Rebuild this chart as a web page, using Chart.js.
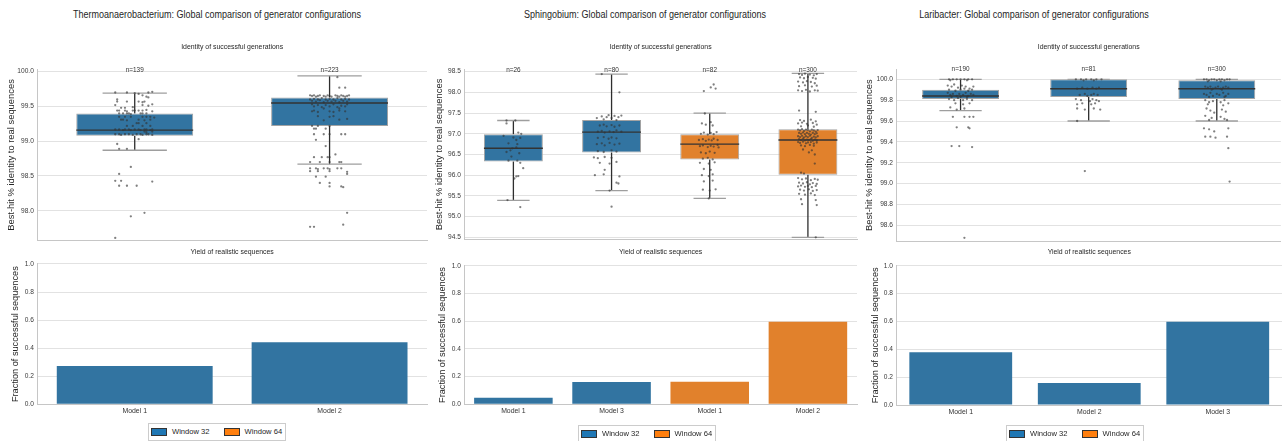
<!DOCTYPE html>
<html>
<head>
<meta charset="utf-8">
<script src="https://cdn.jsdelivr.net/npm/chart.js@4.4.1/dist/chart.umd.min.js"></script>
<style>
html,body{margin:0;padding:0;background:#ffffff;}
body{width:1282px;height:441px;overflow:hidden;position:relative;font-family:'Liberation Sans',Arial,sans-serif;color:#262626;}
canvas{position:absolute;}
.supt{position:absolute;top:9px;font-size:10px;line-height:12px;white-space:nowrap;transform:translateX(-50%) scaleX(0.9);color:#262626;}
.legend{position:absolute;height:18px;box-sizing:border-box;border:1px solid #cccccc;background:#fff;display:flex;align-items:center;padding:0 3px 0 2px;font-size:7.6px;line-height:10px;white-space:nowrap;color:#262626;}
.legend .sw{display:inline-block;width:16px;height:8px;box-sizing:border-box;border:1px solid #333;margin-right:5px;}
.legend .lt{margin-right:14px;color:#262626;}
.legend .lt:last-child{margin-right:0;}
</style>
</head>
<body>
<div class="supt" id="t1" style="left:217px"></div>
<div class="supt" id="t2" style="left:645px"></div>
<div class="supt" id="t3" style="left:1034px"></div>

<canvas id="thermoBox" width="430" height="220" style="left:0px;top:30px"></canvas>
<canvas id="thermoBar" width="430" height="201" style="left:0px;top:240px"></canvas>
<canvas id="sphingoBox" width="430" height="220" style="left:430px;top:30px"></canvas>
<canvas id="sphingoBar" width="430" height="201" style="left:430px;top:240px"></canvas>
<canvas id="lariBox" width="422" height="220" style="left:860px;top:30px"></canvas>
<canvas id="lariBar" width="422" height="201" style="left:860px;top:240px"></canvas>

<div class="legend" id="lg1" style="left:148px;top:423px;"></div>
<div class="legend" id="lg2" style="left:578px;top:425px;"></div>
<div class="legend" id="lg3" style="left:1006px;top:425px;"></div>

<script>
const FONT = "'Liberation Sans',Arial,sans-serif";
const WINDOW_COLORS = {32: '#3274a1', 64: '#e1812c'};
const LEGEND_LABELS = ['Window 32', 'Window 64'];
const LEGEND_COLORS = ['#1f77b4', '#ff7f0e'];

const suptitles = [
  'Thermoanaerobacterium: Global comparison of generator configurations',
  'Sphingobium: Global comparison of generator configurations',
  'Laribacter: Global comparison of generator configurations'
];
const identityTitle = 'Identity of successful generations';
const yieldTitle = 'Yield of realistic sequences';
const identityAxisTitle = 'Best-hit % identity to real sequences';
const yieldAxisTitle = 'Fraction of successful sequences';
const fractionTicks = [0.0, 0.2, 0.4, 0.6, 0.8, 1.0];

/* ---------- Thermoanaerobacterium ---------- */
const thermoLabels = ['Model 1', 'Model 2'];
const thermoWindows = [32, 32];
const thermoWhiskerLow = [98.87, 98.67];
const thermoQ1 = [99.08, 99.22];
const thermoMedian = [99.16, 99.55];
const thermoQ3 = [99.40, 99.63];
const thermoWhiskerHigh = [99.69, 99.94];
const thermoCounts = [139, 223];
const thermoIdentityTicks = [98.0, 98.5, 99.0, 99.5, 100.0];
const thermoPointsModel1 = [
[-0.10,99.70],[-0.04,99.70],[0.00,99.69],[0.02,99.68],[0.04,99.66],[0.07,99.70],[0.09,99.71],
[0.06,99.64],[0.07,99.63],[-0.09,99.60],
[-0.09,99.57],[-0.04,99.57],[0.02,99.57],[0.04,99.56],[0.05,99.57],
[-0.10,99.52],[0.04,99.52],[0.07,99.51],[0.09,99.53],
[-0.07,99.48],[-0.05,99.48],[-0.01,99.49],
[-0.09,99.44],[-0.08,99.44],[-0.05,99.44],[-0.04,99.43],[-0.01,99.44],[0.00,99.44],[0.02,99.44],[0.04,99.44],[0.06,99.45],[0.09,99.43],
[-0.08,99.40],[-0.06,99.40],[-0.04,99.40],[-0.03,99.40],[-0.02,99.39],[0.03,99.40],[0.04,99.40],[0.06,99.40],
[-0.08,99.35],[-0.05,99.35],[-0.02,99.35],[0.04,99.35],[0.06,99.35],[0.08,99.35],[0.10,99.34],
[-0.07,99.31],[-0.06,99.31],[-0.04,99.30],[0.02,99.31],[0.05,99.30],[0.08,99.31],
[0.01,99.26],[0.02,99.26],[0.06,99.26],
[-0.04,99.22],[-0.01,99.22],[0.04,99.22],[0.08,99.22],
[-0.10,99.17],[-0.08,99.17],[-0.06,99.16],[-0.05,99.17],[-0.03,99.17],[-0.02,99.16],[0.00,99.17],[0.02,99.17],[0.03,99.16],[0.05,99.17],[0.06,99.17],[0.08,99.16],[0.09,99.17],
[0.05,99.14],[0.06,99.13],[0.09,99.14],
[-0.10,99.10],[-0.08,99.10],[-0.07,99.09],[-0.05,99.10],[-0.03,99.10],[-0.01,99.09],[0.01,99.10],[0.03,99.10],[0.04,99.09],[0.06,99.10],[0.07,99.10],[0.09,99.09],
[0.02,99.03],[-0.09,98.96],[-0.08,98.89],[-0.04,98.89],[-0.02,98.63],[-0.08,98.53],[-0.10,98.43],[-0.07,98.43],[0.09,98.42],
[-0.08,98.36],[-0.04,98.36],[0.01,98.36],[0.05,97.97],[-0.02,97.92],[-0.10,97.61]
];
const thermoPointsModel2 = [
[0.04,99.92],[0.05,99.77],[0.08,99.77],
[-0.10,99.66],[-0.09,99.65],[-0.08,99.66],[-0.07,99.64],[-0.06,99.65],[-0.05,99.66],[-0.03,99.65],[-0.02,99.64],[-0.01,99.66],[0.00,99.65],[0.01,99.64],[0.03,99.66],[0.04,99.65],[0.05,99.64],[0.06,99.66],[0.07,99.65],[0.08,99.64],[0.09,99.65],[0.10,99.66],
[-0.10,99.60],[-0.09,99.58],[-0.08,99.61],[-0.07,99.57],[-0.06,99.60],[-0.05,99.59],[-0.04,99.62],[-0.03,99.56],[-0.02,99.60],[-0.01,99.58],[0.00,99.61],[0.01,99.57],[0.02,99.60],[0.03,99.58],[0.04,99.62],[0.05,99.56],[0.06,99.60],[0.07,99.58],[0.08,99.61],[0.09,99.57],[0.10,99.60],
[-0.09,99.53],[-0.08,99.50],[-0.06,99.52],[-0.04,99.49],[-0.02,99.52],[0.00,99.50],[0.02,99.53],[0.04,99.49],[0.06,99.51],[0.08,99.50],[0.09,99.53],[-0.03,99.47],[0.05,99.47],
[-0.09,99.43],[-0.08,99.44],[-0.06,99.42],[0.00,99.43],[0.02,99.42],[0.05,99.44],[0.08,99.43],
[-0.06,99.36],[0.00,99.35],[0.02,99.36],[0.05,99.31],[0.09,99.32],[-0.03,99.30],
[-0.09,99.22],[-0.06,99.22],[0.00,99.22],
[-0.08,99.18],[-0.07,99.18],[-0.02,99.18],
[-0.08,99.10],[-0.03,99.10],[0.00,99.10],[0.06,99.10],[0.08,99.10],
[-0.07,99.02],[-0.02,98.93],[0.03,98.81],
[-0.08,98.77],[-0.04,98.77],[-0.01,98.77],[0.00,98.77],
[-0.10,98.70],[-0.05,98.70],[0.00,98.70],[0.05,98.70],[0.06,98.70],
[-0.10,98.61],[-0.07,98.61],[-0.06,98.60],[-0.03,98.61],[-0.01,98.61],[0.00,98.60],[0.04,98.61],[0.06,98.61],
[-0.10,98.57],[-0.06,98.57],[0.00,98.57],[0.09,98.56],[0.09,98.53],
[-0.07,98.49],[-0.02,98.49],[-0.05,98.40],[0.00,98.40],
[0.00,98.35],[0.06,98.35],[0.07,98.34],
[0.09,97.97],[0.07,97.80],[-0.10,97.77],[-0.08,97.77]
];
const thermoYieldLabels = ['Model 1', 'Model 2'];
const thermoYieldWindows = [32, 32];
const thermoYield = [0.273, 0.442];

/* ---------- Sphingobium ---------- */
const sphingoLabels = ['Model 1', 'Model 3', 'Model 1', 'Model 2'];
const sphingoWindows = [32, 32, 64, 64];
const sphingoWhiskerLow = [95.39, 95.63, 95.44, 94.50];
const sphingoQ1 = [96.33, 96.55, 96.38, 96.01];
const sphingoMedian = [96.65, 97.04, 96.75, 96.85];
const sphingoQ3 = [96.99, 97.33, 96.99, 97.11];
const sphingoWhiskerHigh = [97.32, 98.44, 97.50, 98.46];
const sphingoCounts = [26, 80, 82, 300];
const sphingoIdentityTicks = [94.5, 95.0, 95.5, 96.0, 96.5, 97.0, 97.5, 98.0, 98.5];
const sphingoPointsA = [
[-0.07,97.32],[0.02,97.32],[-0.07,97.25],[0.05,97.03],[0.08,97.00],[-0.10,96.95],[0.00,96.91],[0.07,96.90],[-0.05,96.77],[0.04,96.75],
[-0.01,96.65],[0.03,96.67],[-0.07,96.56],[0.06,96.53],[-0.05,96.35],[0.04,96.35],[0.07,96.30],[0.10,96.17],[0.03,95.97],[0.05,95.98],
[0.01,95.92],[-0.06,95.40],[0.07,95.23],[-0.02,96.45],[0.03,96.85],[-0.03,96.60]
];
const sphingoPointsB = [
[-0.10,98.44],[0.08,98.00],
[-0.15,97.38],[-0.10,97.42],[-0.08,97.35],[-0.05,97.40],[-0.03,97.45],[0.00,97.38],[0.03,97.43],[0.05,97.33],[0.07,97.40],[0.10,97.44],
[-0.12,97.20],[-0.08,97.22],[-0.05,97.18],[0.00,97.21],[0.03,97.17],[0.08,97.20],
[-0.14,97.05],[-0.10,97.07],[-0.07,97.03],[-0.02,97.06],[0.02,97.04],[0.05,97.08],[0.10,97.05],
[-0.14,96.90],[-0.08,96.92],[-0.03,96.88],[0.00,96.91],[0.05,96.89],
[-0.15,96.75],[-0.10,96.77],[-0.07,96.72],[-0.02,96.78],[0.03,96.74],[0.08,96.76],
[-0.14,96.58],[-0.08,96.56],[0.00,96.60],[0.05,96.57],
[-0.18,96.43],[-0.14,96.41],[-0.07,96.44],[0.00,96.42],
[-0.12,96.30],[-0.02,96.28],[0.05,96.32],[-0.07,96.13],
[-0.17,96.00],[-0.08,96.02],[0.08,95.97],[0.05,95.82],[0.07,95.80],[-0.02,95.63],[0.00,95.24]
];
const sphingoPointsC = [
[-0.06,98.03],[0.01,98.12],[0.04,98.19],[0.06,98.09],[-0.05,97.49],
[-0.08,97.25],[-0.04,97.22],[0.01,97.28],[0.03,97.20],
[-0.09,97.00],[-0.06,97.03],[-0.02,96.98],[0.01,97.02],[0.04,96.99],[0.07,97.04],
[-0.11,96.85],[-0.07,96.87],[-0.04,96.83],[-0.01,96.86],[0.02,96.84],[0.04,96.88],[0.08,96.85],
[-0.10,96.70],[-0.07,96.72],[-0.02,96.68],[0.01,96.71],[0.04,96.69],[0.08,96.73],[0.09,96.67],
[-0.09,96.55],[-0.04,96.53],[0.00,96.57],[0.05,96.54],
[-0.07,96.40],[-0.02,96.42],[0.03,96.38],
[-0.10,96.30],[-0.01,96.28],[0.05,96.31],
[-0.06,96.15],[0.01,96.13],
[-0.08,96.00],[-0.01,95.98],[0.03,96.02],
[-0.06,95.85],[0.03,95.87],
[-0.07,95.65],[0.00,95.63],[0.06,95.66],[-0.01,95.44]
];
const sphingoPointsD = [
[-0.09,98.44],[-0.06,98.42],[-0.03,98.45],[0.02,98.43],[0.06,98.41],[0.09,98.44],
[-0.08,98.36],[-0.04,98.34],[0.00,98.37],[0.05,98.35],[0.08,98.33],
[-0.10,98.26],[-0.05,98.24],[-0.01,98.27],[0.03,98.25],[0.07,98.22],
[-0.09,98.15],[-0.03,98.17],[0.04,98.14],[0.09,98.16],
[-0.10,98.05],[-0.06,98.03],[-0.02,98.06],[0.02,98.02],[0.07,98.05],[0.10,98.04],
[-0.09,97.56],[0.08,97.53],
[-0.08,97.33],[-0.04,97.31],[0.03,97.34],[0.08,97.30],[-0.10,97.25],[-0.06,97.27],[-0.01,97.24],[0.05,97.26],[0.09,97.22],[-0.07,97.18],[0.00,97.20],[0.06,97.17],
[-0.10,97.10],[-0.08,97.08],[-0.06,97.11],[-0.04,97.07],[-0.02,97.10],[0.00,97.09],[0.02,97.06],[0.04,97.10],[0.06,97.08],[0.08,97.05],[0.10,97.09],
[-0.09,97.02],[-0.07,97.00],[-0.05,97.03],[-0.03,96.99],[-0.01,97.02],[0.01,97.00],[0.03,96.98],[0.05,97.02],[0.07,96.99],[0.09,97.01],
[-0.10,96.94],[-0.08,96.92],[-0.06,96.95],[-0.04,96.91],[-0.02,96.94],[0.00,96.92],[0.02,96.95],[0.04,96.90],[0.06,96.93],[0.08,96.91],[0.10,96.94],
[-0.09,96.87],[-0.07,96.85],[-0.05,96.88],[-0.03,96.84],[-0.01,96.86],[0.01,96.85],[0.03,96.87],[0.05,96.83],[0.07,96.86],[0.09,96.84],
[-0.10,96.80],[-0.08,96.78],[-0.05,96.81],[-0.02,96.77],[0.00,96.79],[0.03,96.80],[0.06,96.76],[0.09,96.79],
[-0.07,96.72],[-0.03,96.70],[0.02,96.73],[0.06,96.71],
[-0.05,96.62],[0.04,96.60],[0.01,96.55],[0.07,96.50],[0.07,96.28],[-0.07,96.06],[-0.04,96.04],
[-0.10,95.93],[-0.06,95.90],[-0.02,95.92],[0.03,95.88],[0.07,95.91],[0.10,95.89],
[-0.09,95.82],[-0.05,95.80],[-0.01,95.83],[0.02,95.78],[0.05,95.81],[0.09,95.79],
[-0.10,95.73],[-0.07,95.75],[-0.03,95.72],[0.00,95.74],[0.04,95.71],[0.08,95.74],
[-0.08,95.65],[-0.04,95.63],[0.01,95.66],[0.05,95.62],[0.09,95.64],
[-0.09,95.55],[-0.03,95.53],[0.03,95.56],[0.07,95.52],
[-0.07,95.42],[0.08,95.40],[-0.06,95.30],[0.09,95.28],[0.08,94.50]
];
const sphingoYieldLabels = ['Model 1', 'Model 3', 'Model 1', 'Model 2'];
const sphingoYieldWindows = [32, 32, 64, 64];
const sphingoYield = [0.048, 0.161, 0.163, 0.596];

/* ---------- Laribacter ---------- */
const lariLabels = ['Model 1', 'Model 2', 'Model 3'];
const lariWindows = [32, 32, 32];
const lariWhiskerLow = [99.70, 99.60, 99.60];
const lariQ1 = [99.81, 99.83, 99.81];
const lariMedian = [99.84, 99.91, 99.91];
const lariQ3 = [99.90, 100.0, 99.99];
const lariWhiskerHigh = [100.0, 100.0, 100.0];
const lariCounts = [190, 81, 300];
const lariIdentityTicks = [98.6, 98.8, 99.0, 99.2, 99.4, 99.6, 99.8, 100.0];
const lariPointsModel1 = [
[-0.09,100.0],[-0.06,100.0],[-0.03,100.0],[0.00,100.0],[0.03,100.0],[0.06,100.0],[0.09,100.0],[-0.08,99.99],[0.05,99.99],
[-0.10,99.94],[-0.07,99.93],[-0.05,99.95],[-0.02,99.92],[0.01,99.94],[0.04,99.93],[0.07,99.91],[0.10,99.93],[-0.09,99.90],[-0.04,99.89],[0.00,99.90],[0.03,99.91],[0.06,99.89],[0.09,99.90],
[-0.10,99.87],[-0.08,99.85],[-0.06,99.86],[-0.03,99.84],[-0.01,99.86],[0.02,99.85],[0.04,99.87],[0.06,99.84],[0.08,99.86],[0.10,99.85],[-0.07,99.83],[0.00,99.83],[0.05,99.83],
[-0.09,99.81],[-0.05,99.80],[-0.02,99.82],[0.02,99.80],[0.05,99.81],[0.09,99.80],
[-0.04,99.77],[0.02,99.76],[0.07,99.77],[-0.08,99.73],[-0.03,99.71],[0.03,99.72],
[-0.06,99.64],[0.03,99.64],[0.07,99.64],[0.10,99.64],[-0.03,99.54],[0.06,99.54],[0.07,99.53],
[-0.07,99.36],[-0.01,99.36],[0.09,99.35],[0.03,98.48]
];
const lariPointsModel2 = [
[-0.10,100.0],[-0.06,100.0],[-0.02,100.0],[0.02,100.0],[0.06,100.0],[0.10,100.0],[-0.04,99.99],[0.04,99.99],
[-0.09,99.91],[-0.05,99.92],[-0.01,99.91],[0.03,99.92],[0.06,99.91],[0.08,99.92],
[-0.07,99.85],[-0.03,99.86],[-0.01,99.84],[0.02,99.85],[0.04,99.86],[0.07,99.85],
[-0.10,99.81],[-0.06,99.80],[0.01,99.79],[0.03,99.81],[0.06,99.80],[0.08,99.79],
[-0.09,99.76],[-0.05,99.77],[0.02,99.76],[0.05,99.77],
[-0.09,99.72],[-0.03,99.71],[0.04,99.72],[0.09,99.71],
[-0.09,99.60],[-0.03,99.12]
];
const lariPointsModel3 = [
[-0.10,100.0],[-0.08,100.0],[-0.06,99.99],[-0.04,100.0],[-0.02,100.0],[0.00,99.99],[0.02,100.0],[0.04,100.0],[0.06,99.99],[0.08,100.0],[0.10,100.0],[-0.07,99.98],[0.03,99.98],
[-0.09,99.93],[-0.07,99.92],[-0.05,99.93],[-0.03,99.91],[-0.01,99.92],[0.01,99.93],[0.03,99.91],[0.05,99.92],[0.07,99.93],[0.09,99.92],[-0.04,99.90],[0.04,99.90],
[-0.10,99.86],[-0.08,99.85],[-0.05,99.87],[-0.03,99.84],[0.00,99.86],[0.02,99.85],[0.05,99.87],[0.07,99.84],[0.09,99.86],[-0.06,99.83],[0.06,99.83],
[-0.09,99.80],[-0.06,99.78],[-0.03,99.79],[0.03,99.78],[0.06,99.80],[0.09,99.77],[-0.07,99.76],[0.05,99.75],
[-0.08,99.72],[-0.05,99.70],[-0.02,99.68],[0.04,99.71],[0.07,99.69],
[-0.09,99.65],[-0.04,99.63],[0.03,99.64],[0.06,99.62],[-0.06,99.61],[0.08,99.61],
[-0.10,99.53],[-0.06,99.52],[-0.02,99.50],[0.09,99.53],
[-0.09,99.45],[-0.05,99.45],[-0.01,99.44],[0.08,99.45],
[0.09,99.34],[0.10,99.02]
];
const lariYieldLabels = ['Model 1', 'Model 2', 'Model 3'];
const lariYieldWindows = [32, 32, 32];
const lariYield = [0.378, 0.158, 0.598];

/* ---------- helpers ---------- */
function boxPluginFor(d) {
  return {
    id: 'boxExtras',
    beforeDatasetsDraw(chart) {
      const meta = chart.getDatasetMeta(1), y = chart.scales.y, ctx = chart.ctx;
      ctx.save();
      meta.data.forEach((bar, i) => {
        const x = bar.x, cw = bar.width * 0.55;
        const yl = y.getPixelForValue(d.low[i]), yh = y.getPixelForValue(d.high[i]);
        const y1 = y.getPixelForValue(d.q1[i]), y3 = y.getPixelForValue(d.q3[i]);
        ctx.lineWidth = 1.3;
        ctx.strokeStyle = '#2e2e2e';
        ctx.beginPath();
        ctx.moveTo(x, y1); ctx.lineTo(x, yl);
        ctx.moveTo(x, y3); ctx.lineTo(x, yh);
        ctx.stroke();
        ctx.strokeStyle = '#9e9e9e';
        ctx.beginPath();
        ctx.moveTo(x - cw / 2, yl); ctx.lineTo(x + cw / 2, yl);
        ctx.moveTo(x - cw / 2, yh); ctx.lineTo(x + cw / 2, yh);
        ctx.stroke();
      });
      ctx.restore();
    },
    afterDatasetDraw(chart, args) {
      if (args.index !== 1) return;
      const meta = chart.getDatasetMeta(1), y = chart.scales.y, ctx = chart.ctx;
      ctx.save();
      ctx.strokeStyle = '#333333';
      ctx.lineWidth = 1.4;
      meta.data.forEach((bar, i) => {
        const ym = y.getPixelForValue(d.median[i]);
        ctx.beginPath();
        ctx.moveTo(bar.x - bar.width / 2, ym);
        ctx.lineTo(bar.x + bar.width / 2, ym);
        ctx.stroke();
      });
      ctx.restore();
    },
    afterDraw(chart) {
      const meta = chart.getDatasetMeta(1), ctx = chart.ctx;
      ctx.save();
      ctx.font = '6.4px ' + FONT;
      ctx.fillStyle = '#333333';
      ctx.textAlign = 'center';
      ctx.textBaseline = 'middle';
      meta.data.forEach((bar, i) => {
        ctx.fillText('n=' + d.counts[i], bar.x, chart.chartArea.top);
      });
      ctx.restore();
    }
  };
}

function boxChart(id, d) {
  const pts = [];
  d.points.forEach((arr, i) => arr.forEach(p => pts.push({x: i + p[0], y: p[1]})));
  const n = d.labels.length;
  return new Chart(document.getElementById(id), {
    type: 'bar',
    data: {
      datasets: [
        {type: 'scatter', data: pts, pointRadius: 1.15,
         pointBackgroundColor: 'rgba(50,50,50,0.62)', pointBorderWidth: 0, pointHoverRadius: 0, order: 0},
        {type: 'bar', label: 'box', data: d.q1.map((v, i) => ({x: i, y: [v, d.q3[i]]})),
         backgroundColor: d.windows.map(w => WINDOW_COLORS[w]), borderColor: '#a3a3a3', borderWidth: 1,
         borderSkipped: false, grouped: false, barPercentage: 0.6, categoryPercentage: 1.0, order: 1}
      ]
    },
    options: {
      responsive: false, animation: false, events: [],
      layout: {padding: {left: 0, right: d.padRight, top: 0, bottom: d.padBottom}},
      plugins: {
        legend: {display: false}, tooltip: {enabled: false},
        title: {display: true, text: identityTitle, fullSize: false, color: '#262626',
                font: {family: FONT, size: 6.9, weight: 'normal'}, padding: {top: d.titleTop, bottom: d.titleBottom}}
      },
      scales: {
        x: {type: 'linear', min: -0.5, max: n - 0.5, offset: false,
            afterBuildTicks: s => { s.ticks = d.labels.map((_, i) => ({value: i})); },
            grid: {display: false, drawTicks: false},
            ticks: {display: false}, border: {display: true, color: '#c6c6c6', width: 1},
            afterFit: s => { s.height = 0; }},
        y: {min: d.yMin, max: d.yMax,
            afterBuildTicks: s => { s.ticks = d.ticks.map(v => ({value: v})); },
            ticks: {font: {family: FONT, size: 6.6}, color: '#3a3a3a', padding: 3.5, callback: v => Number(v).toFixed(1)},
            grid: {color: '#e2e2e2', drawTicks: false, lineWidth: 1},
            border: {display: true, color: '#c6c6c6', width: 1},
            title: {display: true, text: identityAxisTitle, color: '#262626',
                    font: {family: FONT, size: 9.4}, padding: {top: d.axisTitlePad, bottom: 0}},
            afterFit: s => { s.width = d.axisWidth; }}
      }
    },
    plugins: [boxPluginFor(d)]
  });
}

function barChart(id, d) {
  return new Chart(document.getElementById(id), {
    type: 'bar',
    data: {
      labels: d.labels,
      datasets: [{data: d.values, backgroundColor: d.windows.map(w => WINDOW_COLORS[w]),
                  borderWidth: 0, barPercentage: 0.8, categoryPercentage: 1.0}]
    },
    options: {
      responsive: false, animation: false, events: [],
      layout: {padding: {left: 0, right: d.padRight, top: 0, bottom: d.padBottom}},
      plugins: {
        legend: {display: false}, tooltip: {enabled: false},
        title: {display: true, text: yieldTitle, fullSize: false, color: '#262626',
                font: {family: FONT, size: 6.9, weight: 'normal'}, padding: {top: d.titleTop, bottom: d.titleBottom}}
      },
      scales: {
        x: {grid: {display: false, drawTicks: false},
            ticks: {font: {family: FONT, size: 6.9}, color: '#333333', padding: 3},
            border: {display: true, color: '#c6c6c6', width: 1},
            afterFit: s => { s.height = 16; }},
        y: {min: 0, max: 1,
            afterBuildTicks: s => { s.ticks = fractionTicks.map(v => ({value: v})); },
            ticks: {font: {family: FONT, size: 6.6}, color: '#3a3a3a', padding: 3.5, callback: v => Number(v).toFixed(1)},
            grid: {color: '#e2e2e2', drawTicks: false, lineWidth: 1},
            border: {display: true, color: '#c6c6c6', width: 1},
            title: {display: true, text: yieldAxisTitle, color: '#262626',
                    font: {family: FONT, size: 9.2}, padding: {top: d.axisTitlePad, bottom: 0}},
            afterFit: s => { s.width = d.axisWidth; }}
      }
    }
  });
}

function buildLegend(id) {
  const el = document.getElementById(id);
  LEGEND_LABELS.forEach((lab, i) => {
    const sw = document.createElement('span');
    sw.className = 'sw';
    sw.style.background = LEGEND_COLORS[i];
    const t = document.createElement('span');
    t.className = 'lt';
    t.textContent = lab;
    el.appendChild(sw); el.appendChild(t);
  });
}

document.getElementById('t1').textContent = suptitles[0];
document.getElementById('t2').textContent = suptitles[1];
document.getElementById('t3').textContent = suptitles[2];

/* Thermoanaerobacterium */
boxChart('thermoBox', {
  labels: thermoLabels, windows: thermoWindows, low: thermoWhiskerLow, q1: thermoQ1, median: thermoMedian,
  q3: thermoQ3, high: thermoWhiskerHigh, counts: thermoCounts, points: [thermoPointsModel1, thermoPointsModel2],
  ticks: thermoIdentityTicks, yMin: 97.58, yMax: 100.024,
  axisWidth: 37.3, padRight: 3, padBottom: 10, titleTop: 12.9, titleBottom: 18.8, axisTitlePad: 5.3
});
barChart('thermoBar', {
  labels: thermoYieldLabels, windows: thermoYieldWindows, values: thermoYield,
  axisWidth: 37.3, padRight: 3, padBottom: 20.7, titleTop: 8.2, titleBottom: 7.5, axisTitlePad: 9.8
});

/* Sphingobium */
boxChart('sphingoBox', {
  labels: sphingoLabels, windows: sphingoWindows, low: sphingoWhiskerLow, q1: sphingoQ1, median: sphingoMedian,
  q3: sphingoQ3, high: sphingoWhiskerHigh, counts: sphingoCounts,
  points: [sphingoPointsA, sphingoPointsB, sphingoPointsC, sphingoPointsD],
  ticks: sphingoIdentityTicks, yMin: 94.46, yMax: 98.54,
  axisWidth: 34.3, padRight: 3, padBottom: 11, titleTop: 12.9, titleBottom: 18.8, axisTitlePad: 4
});
barChart('sphingoBar', {
  labels: sphingoYieldLabels, windows: sphingoYieldWindows, values: sphingoYield,
  axisWidth: 34.3, padRight: 3, padBottom: 20.7, titleTop: 8.2, titleBottom: 9.2, axisTitlePad: 7
});

/* Laribacter */
boxChart('lariBox', {
  labels: lariLabels, windows: lariWindows, low: lariWhiskerLow, q1: lariQ1, median: lariMedian,
  q3: lariQ3, high: lariWhiskerHigh, counts: lariCounts, points: [lariPointsModel1, lariPointsModel2, lariPointsModel3],
  ticks: lariIdentityTicks, yMin: 98.45, yMax: 100.094,
  axisWidth: 36.5, padRight: 0, padBottom: 9, titleTop: 12.9, titleBottom: 18.3, axisTitlePad: 3.6
});
barChart('lariBar', {
  labels: lariYieldLabels, windows: lariYieldWindows, values: lariYield,
  axisWidth: 36.5, padRight: 0, padBottom: 20, titleTop: 8.2, titleBottom: 9.2, axisTitlePad: 10
});

buildLegend('lg1'); buildLegend('lg2'); buildLegend('lg3');
</script>
</body>
</html>
